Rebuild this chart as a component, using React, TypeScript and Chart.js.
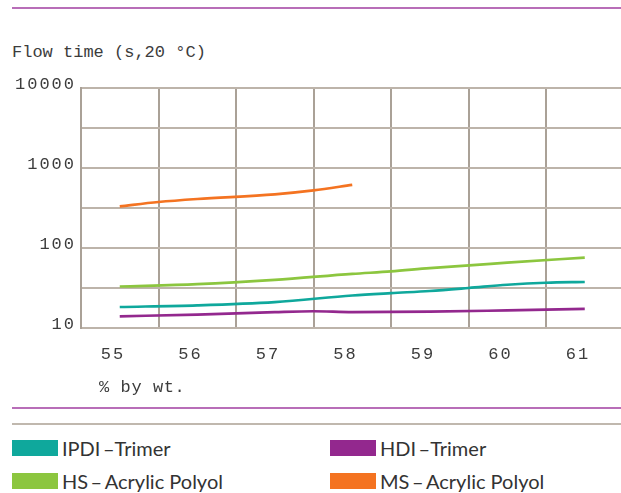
import { useEffect, useRef } from 'react';
import { Chart, registerables } from 'chart.js';

Chart.register(...registerables);

// ---- Data ----
const xTickLabels = ['55', '56', '57', '58', '59', '60', '61'];
const yTickLabels = ['10', '100', '1000', '10000'];

const ipdiX = [55, 56, 57, 58, 58.5, 59, 59.5, 60, 60.5, 61];
const ipdiY = [18.3, 19.2, 21.1, 25.5, 27.3, 29.0, 31.6, 34.7, 36.8, 37.6];

const hdiX = [55, 56, 57, 57.5, 58, 59, 60, 61];
const hdiY = [14.0, 14.7, 15.8, 16.2, 15.8, 16.0, 16.6, 17.3];

const hsX = [55, 56, 57, 58, 58.5, 59, 60, 61];
const hsY = [33.0, 35.3, 40.0, 47.5, 51.0, 56.0, 65.5, 76.0];

const msX = [55, 55.5, 56, 57, 57.5, 58];
const msY = [332, 376, 410, 469, 525, 616];

const seriesNames = ['IPDI\u2009–Trimer', 'HDI\u2009–Trimer', 'HS\u2009–\u2009Acrylic Polyol', 'MS\u2009–\u2009Acrylic Polyol'];
const seriesColors = ['#0fa89c', '#93288e', '#8cc63f', '#f47321'];

const zip = (xs: number[], ys: number[]) => xs.map((x, i) => ({ x, y: ys[i] }));

const spacingPlugin = {
  id: 'letterSpacingPlugin',
  beforeUpdate(chart: any) {
    chart.ctx.letterSpacing = '2px';
  },
  beforeLayout(chart: any) {
    chart.ctx.letterSpacing = '2px';
  },
  beforeDraw(chart: any) {
    chart.ctx.letterSpacing = '2px';
  },
};

const tickFont = { family: '"Liberation Mono", monospace', size: 17 };
const textColor = '#3c3c3c';

export default function App() {
  const ref = useRef<HTMLCanvasElement | null>(null);

  useEffect(() => {
    if (!ref.current) return;
    const sets = [
      zip(ipdiX, ipdiY),
      zip(hdiX, hdiY),
      zip(hsX, hsY),
      zip(msX, msY),
    ];
    const chart = new Chart(ref.current, {
      type: 'line',
      data: {
        datasets: sets.map((d, i) => ({
          label: seriesNames[i],
          data: d,
          borderColor: seriesColors[i],
          backgroundColor: seriesColors[i],
          borderWidth: 2.7,
          pointRadius: 0,
          cubicInterpolationMode: 'monotone' as const,
          fill: false,
        })),
      },
      options: {
        animation: false,
        responsive: false,
        devicePixelRatio: 1,
        layout: { padding: { top: 88, right: 0, bottom: 0, left: 0 } },
        plugins: {
          legend: { display: false },
          tooltip: { enabled: false },
          title: { display: false },
        },
        scales: {
          x: {
            type: 'linear',
            min: 54.5,
            max: 61.4677,
            afterBuildTicks: (s: any) => {
              s.ticks = xTickLabels.map((l) => ({ value: Number(l) - 0.5 }));
            },
            afterFit: (s: any) => {
              s.height = 72;
            },
            ticks: {
              autoSkip: false,
              maxRotation: 0,
              minRotation: 0,
              padding: 16,
              labelOffset: 32,
              color: textColor,
              font: tickFont,
              callback: (_v: any, i: number) => xTickLabels[i],
            },
            grid: { color: '#aaa197', lineWidth: 2, drawTicks: false },
            border: { color: '#bdb4aa', width: 2 },
          },
          y: {
            type: 'logarithmic',
            min: 10,
            max: 10000,
            afterBuildTicks: (s: any) => {
              const vals: number[] = [];
              yTickLabels.forEach((l, i) => {
                vals.push(Number(l));
                if (i < yTickLabels.length - 1) vals.push(Number(l) * Math.sqrt(10));
              });
              s.ticks = vals.map((v) => ({ value: v }));
            },
            afterFit: (s: any) => {
              s.width = 81;
            },
            ticks: {
              autoSkip: false,
              padding: 5,
              labelOffset: -4,
              color: textColor,
              font: tickFont,
              callback: (v: any) => (yTickLabels.includes(String(v)) ? String(v) : ''),
            },
            grid: { color: '#bdb4aa', lineWidth: 2, drawTicks: false },
            border: { color: '#aaa197', width: 2 },
          },
        },
      },
      plugins: [spacingPlugin],
    } as any);
    return () => chart.destroy();
  }, []);

  const mono = '"Liberation Mono", monospace';
  const legendFont = 'Lato, "Open Sans", sans-serif';

  const legendItem = (i: number, left: number, top: number) => (
    <div key={i}>
      <div
        style={{
          position: 'absolute',
          left,
          top,
          width: 46,
          height: 16,
          background: seriesColors[i],
        }}
      />
      <div
        style={{
          position: 'absolute',
          left: left + 50,
          top: top - 2,
          fontFamily: legendFont,
          fontSize: 20,
          lineHeight: '20px',
          color: '#333',
          whiteSpace: 'nowrap',
        }}
      >
        {seriesNames[i]}
      </div>
    </div>
  );

  return (
    <div
      style={{
        position: 'absolute',
        left: 0,
        top: 0,
        width: 621,
        height: 493,
        overflow: 'hidden',
        background: '#fff',
      }}
    >
      <div style={{ position: 'absolute', left: 12, top: 7, width: 609, height: 2, background: '#b86eb8' }} />
      <div
        style={{
          position: 'absolute',
          left: 12,
          top: 44,
          fontFamily: mono,
          fontSize: 17,
          lineHeight: '17px',
          color: textColor,
          whiteSpace: 'nowrap',
        }}
      >
        Flow time (s,20 °C)
      </div>
      <canvas ref={ref} width={621} height={400} style={{ position: 'absolute', left: 0, top: 0, display: 'block' }} />
      <div
        style={{
          position: 'absolute',
          left: 99,
          top: 379,
          fontFamily: mono,
          fontSize: 17,
          lineHeight: '17px',
          letterSpacing: '0.6px',
          color: textColor,
          whiteSpace: 'nowrap',
        }}
      >
        % by wt.
      </div>
      <div style={{ position: 'absolute', left: 12, top: 407, width: 609, height: 2, background: '#b86eb8' }} />
      <div style={{ position: 'absolute', left: 12, top: 423, width: 609, height: 2, background: '#c0b8ae' }} />
      {legendItem(0, 12, 440)}
      {legendItem(1, 330, 440)}
      {legendItem(2, 12, 473)}
      {legendItem(3, 330, 473)}
    </div>
  );
}
